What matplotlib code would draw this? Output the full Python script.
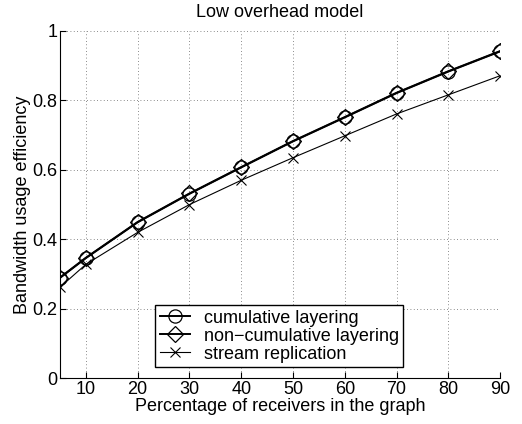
import matplotlib
matplotlib.use("Agg")
import matplotlib.pyplot as plt

plt.rcParams['font.family'] = ['Liberation Sans', 'DejaVu Sans']

x = [5, 10, 20, 30, 40, 50, 60, 70, 80, 90]
cumulative = [0.289, 0.346, 0.449, 0.531, 0.607, 0.682, 0.751, 0.821, 0.883, 0.941]
non_cumulative = [0.290, 0.347, 0.450, 0.532, 0.608, 0.683, 0.752, 0.822, 0.884, 0.942]
stream = [0.262, 0.328, 0.420, 0.500, 0.570, 0.635, 0.698, 0.761, 0.816, 0.871]

xticks = [10, 20, 30, 40, 50, 60, 70, 80, 90]
yticks = [0, 0.2, 0.4, 0.6, 0.8, 1]
yticklabels = ['0', '0.2', '0.4', '0.6', '0.8', '1']

fs = 13

fig = plt.figure(figsize=(5.22, 4.24), dpi=100)
ax = fig.add_axes([0.115, 0.108, 0.843, 0.819])

ax.plot(x, cumulative, color='black', lw=1.4, marker='o', ms=9.5,
        mfc='none', mec='black', mew=0.9, label='cumulative layering')
ax.plot(x, non_cumulative, color='black', lw=1.4, marker='D', ms=8,
        mfc='none', mec='black', mew=0.9, label='non\u2212cumulative layering')
ax.plot(x, stream, color='black', lw=0.8, marker='x', ms=7.5,
        mec='black', mew=0.8, label='stream replication')

ax.set_xlim(5, 90)
ax.set_ylim(0, 1)
ax.set_xticks(xticks)
ax.set_yticks(yticks)
ax.set_yticklabels(yticklabels)
ax.tick_params(direction='in', length=4, labelsize=fs, width=0.8, pad=2)
ax.grid(True, linestyle=(0, (1, 3)), color='#666666', linewidth=0.6)
ax.spines['top'].set_visible(False)
ax.spines['right'].set_visible(False)
ax.spines['left'].set_linewidth(0.8)
ax.spines['bottom'].set_linewidth(0.8)

ax.set_title('Low overhead model', fontsize=fs, pad=10)
ax.set_xlabel('Percentage of receivers in the graph', fontsize=fs, labelpad=0)
ax.set_ylabel('Bandwidth usage efficiency', fontsize=fs, labelpad=1)

leg = ax.legend(loc='lower left', bbox_to_anchor=(0.216, 0.032), fontsize=fs,
                frameon=True, fancybox=False, edgecolor='black', framealpha=1,
                handlelength=1.7, handletextpad=0.75, borderpad=0.25,
                labelspacing=0.05, borderaxespad=0)
leg.get_frame().set_linewidth(1.0)

fig.savefig('out.png', dpi=100)
